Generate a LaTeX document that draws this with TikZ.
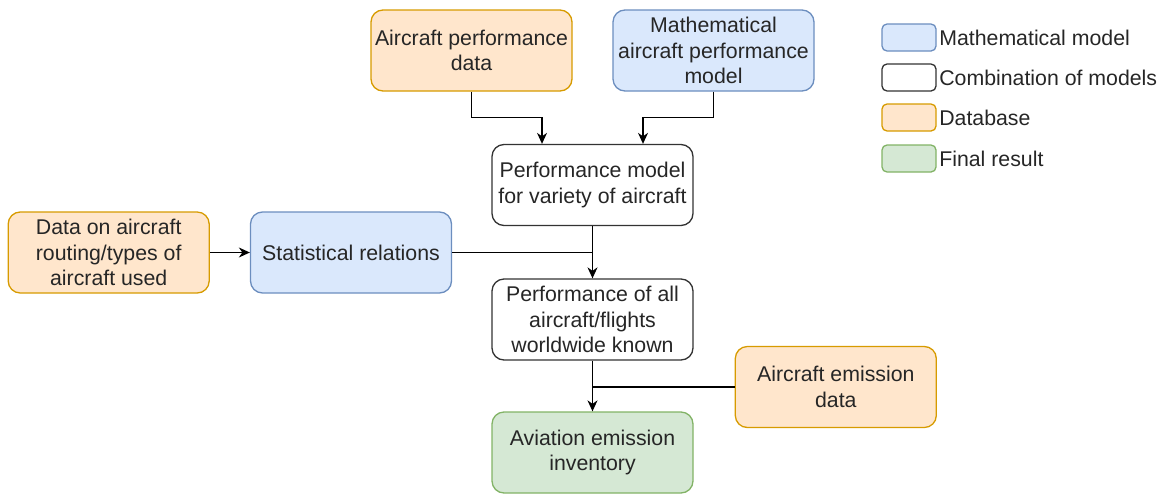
\documentclass[tikz,border=0pt]{standalone}
\usepackage{fontspec}
\setmainfont{Liberation Sans}
\usepackage{tikz}
\usetikzlibrary{arrows.meta}
\usetikzlibrary{positioning}
\usepackage{xcolor}

\definecolor{mathfill}{HTML}{DAE8FC}
\definecolor{mathline}{HTML}{6C8EBF}
\definecolor{dbfill}{HTML}{FFE6CC}
\definecolor{dbline}{HTML}{D79B00}
\definecolor{finalfill}{HTML}{D5E8D4}
\definecolor{finalline}{HTML}{82B366}

\begin{document}
\begin{tikzpicture}[x=1pt, y=-1pt, node distance=134.5pt, line width=1.3pt, >={Stealth[length=11pt, width=10pt, inset=3.5pt]}]
\tikzstyle{every node} = [font=\fontsize{21.3}{25.6}\selectfont, text=black!85]
\tikzstyle{box} = [draw, rounded corners=12pt, minimum width=201pt, minimum height=81pt, align=center, inner sep=2pt]
\tikzstyle{legbox} = [draw, rounded corners=5pt, minimum width=54pt, minimum height=27pt, inner sep=0pt]
\tikzstyle{mathcol} = [draw=mathline, fill=mathfill]
\tikzstyle{dbcol} = [draw=dbline, fill=dbfill]
\tikzstyle{combcol} = [draw=black!80, fill=white]
\tikzstyle{finalcol} = [draw=finalline, fill=finalfill]

\useasboundingbox (0,0) rectangle (1164,493);

\node[box, combcol] (pmv) at (592.5,185) {Performance model\\for variety of aircraft};
\node[box, dbcol] (apd) [above of=pmv, xshift=-121pt] {Aircraft performance\\data};
\node[box, mathcol] (mapm) [above of=pmv, xshift=121pt] {Mathematical\\aircraft performance\\model};
\node[box, combcol] (pall) [below of=pmv] {Performance of all\\aircraft/flights\\worldwide known};
\node[box, finalcol] (aei) [below of=pall, yshift=1.5pt] {Aviation emission\\inventory};
\node[box, mathcol] (stat) [left of=pall, xshift=-107pt, yshift=67pt] {Statistical relations};
\node[box, dbcol] (data) [left=40pt of stat] {Data on aircraft\\routing/types of\\aircraft used};
\node[box, dbcol] (emis) [right=41pt of pall, yshift=-67.5pt] {Aircraft emission\\data};

% legend
\node[legbox, mathcol] (lmath) at (909,37.5) {};
\node[legbox, combcol] (lcomb) at (909,77.5) {};
\node[legbox, dbcol] (ldb) at (909,117.5) {};
\node[legbox, finalcol] (lfinal) at (909,158.5) {};
\node[right=1pt of lmath, inner sep=1pt] (lmathtxt) {Mathematical model};
\node[right=1pt of lcomb, inner sep=1pt] (lcombtxt) {Combination of models};
\node[right=1pt of ldb, inner sep=1pt] (ldbtxt) {Database};
\node[right=1pt of lfinal, inner sep=1pt] (lfinaltxt) {Final result};

\draw[->] (apd.south) -- ++(0,26) -| ([xshift=-50.5pt]pmv.north);
\draw[->] (mapm.south) -- ++(0,26) -| ([xshift=50.5pt]pmv.north);
\draw[->] (pmv) -- (pall);
\draw (stat) -- (stat -| pall);
\draw[->] (data) -- (stat);
\draw[->] (pall) -- (aei);
\draw (emis) -- (emis -| aei);

\end{tikzpicture}
\end{document}
